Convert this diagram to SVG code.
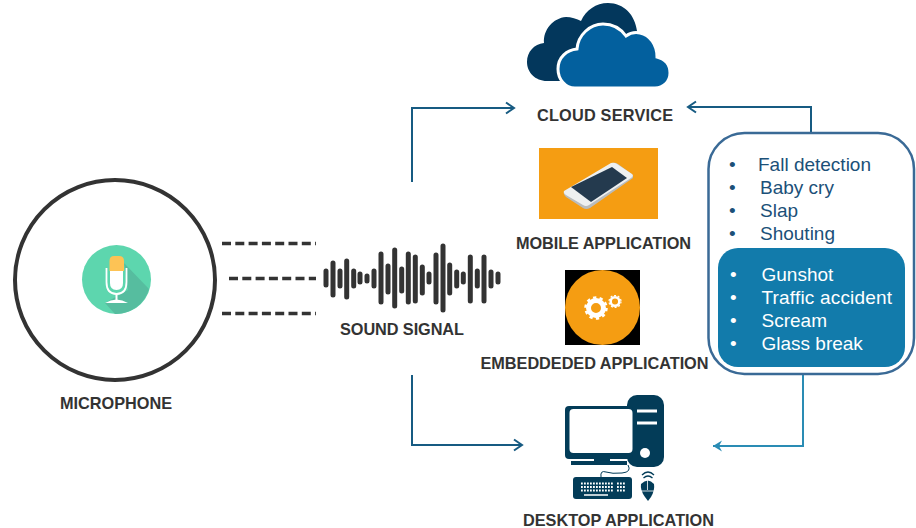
<svg xmlns="http://www.w3.org/2000/svg" width="916" height="528" viewBox="0 0 916 528">
<style>
text{font-family:"Liberation Sans",Arial,sans-serif}
.lbl{font-size:16.300px;font-weight:bold;fill:#333;text-anchor:middle}
.dark{font-size:19px;fill:#1b5078}
.light{font-size:19px;fill:#fff}
.dash{fill:none;stroke:#333;stroke-width:3.400;stroke-dasharray:9 4.300}
.bar{stroke:#333;stroke-width:5;stroke-linecap:round;fill:none}
.conn{fill:none;stroke:#175b82;stroke-width:2}
.conn2{fill:none;stroke:#2a8cb4;stroke-width:2}
.ic{fill:#033c58}
</style>
<defs>
<marker id="open" markerUnits="userSpaceOnUse" markerWidth="14" markerHeight="14" refX="11" refY="7" orient="auto"><path d="M3 1.500L11 7L3 12.500" fill="none" stroke="#175b82" stroke-width="2"/></marker>
<marker id="solid" markerUnits="userSpaceOnUse" markerWidth="14" markerHeight="14" refX="11" refY="7" orient="auto"><path d="M2 1.500L11 7L2 12.500L5 7Z" fill="#2a8cb4"/></marker>
</defs>
<g id="connectors">
<path class="conn" marker-end="url(#open)" d="M412 182V108H514"/>
<path class="conn" marker-end="url(#open)" d="M811 133V107H688"/>
<path class="conn" marker-end="url(#open)" d="M412 375V445H522"/>
<path class="conn2" marker-end="url(#solid)" d="M803 375V446H713"/>
<path class="dash" d="M222 243.500H316"/>
<path class="dash" d="M229 278.500H316"/>
<path class="dash" d="M222 313.500H316"/>
</g>
<g id="microphone">
<circle cx="115" cy="280" r="100" fill="#fff" stroke="#333" stroke-width="4"/>
<circle cx="116.500" cy="279.500" r="34.500" fill="#5dd6ae"/>
<path d="M124 263L149 289A34.500 34.500 0 0 1 115 314L105 303L128 290Z" fill="#56bd9f"/>
<path d="M106.500 268V282Q106.500 294 116.500 294Q126.500 294 126.500 282V268" fill="none" stroke="#fff" stroke-width="1.800"/>
<path d="M110 271H123V283Q123 290 116.500 290Q110 290 110 283Z" fill="#fff"/>
<path d="M109.500 271V261Q109.500 256 114 256H119Q124 256 124 261V271Z" fill="#fdc355"/>
<path d="M116.500 294V300" stroke="#fff" stroke-width="2"/>
<path d="M105 303Q116.500 296 128 303Z" fill="#fff"/>
<text class="lbl" x="116" y="409" textLength="112">MICROPHONE</text>
</g>
<g id="sound-signal">
<path class="bar" d="M326 271v14M333 263v32M340 271v15M346.700 261v36M353.700 271v15M360 274v8M367 276v5M374 271v15M381 254v48M388 266v26M394.700 250v56M401.700 269v22M408.300 254v48M415.300 257v44M422.300 267v26M429 274v8M436 255v47M443 246v64M449.700 265v28M456.700 272v14M463.300 274v8M470.300 257v44M477.300 271v15M484 257v44M491 272v14M498 274v8"/>
<text class="lbl" x="402" y="335" textLength="124">SOUND SIGNAL</text>
</g>
<g id="cloud-service">
<path fill="#03375c" d="M547 81C535 81 527 72 527 62C527 52 534 44 544 43C543 30 553 18 566 17C571 17 577 19 581 21C586 10 596 3 608 3C624 3 635 15 637 31L640 60L600 81Z"/>
<path fill="#03609e" stroke="#fff" stroke-width="3" d="M575 88C565 88 558 79 558 69C558 57 567 50 577 49C578 35 590 24 603 24C613 24 621 29 626 36C630 33 635 32 640 33C650 35 657 45 657 57C665 59 670 65 670 73C670 82 663 88 655 88Z"/>
<text class="lbl" x="605" y="121" textLength="136">CLOUD SERVICE</text>
</g>
<g id="mobile-application">
<rect x="539" y="148" width="119" height="71" fill="#f59d12"/>
<path d="M564 192L612 163Q615 162 618 164L633 175V178L590 208Q586 210 583 208L566 197Q563 194 564 192Z" fill="#b9bcbd"/>
<path d="M564 191L611 163Q614 162 617 164L632 174Q634 176 631 178L589 205Q586 207 583 205L566 195Q563 193 564 191Z" fill="#eef0f0"/>
<path d="M571 187L612 167L627 178L591 202Z" fill="#243a4e"/>
<text class="lbl" x="603.500" y="249" textLength="175">MOBILE APPLICATION</text>
</g>
<g id="embedded-application">
<rect x="565" y="270" width="75" height="75" fill="#000"/>
<circle cx="602.500" cy="307.500" r="37.500" fill="#f59d12"/>
<circle cx="596" cy="308" r="7.500" fill="none" stroke="#fff" stroke-width="5"/>
<circle cx="596" cy="308" r="10.500" fill="none" stroke="#fff" stroke-width="2.500" stroke-dasharray="3.300 3.300"/>
<circle cx="615" cy="301.500" r="4.300" fill="none" stroke="#fff" stroke-width="2.500"/>
<circle cx="615" cy="301.500" r="6" fill="none" stroke="#fff" stroke-width="1.200" stroke-dasharray="2 1.800"/>
<text class="lbl" x="594.500" y="369" textLength="228">EMBEDDEDED APPLICATION</text>
</g>
<g id="desktop-application">
<rect class="ic" x="627" y="395" width="37" height="72" rx="10"/>
<rect class="ic" x="565" y="406" width="68" height="53" rx="4"/>
<rect x="569.500" y="409" width="63" height="44" rx="4" fill="#fff"/>
<path d="M637 411H657M637 423H657" stroke="#fff" stroke-width="3"/>
<circle cx="645" cy="453" r="5" fill="#fff"/>
<path class="ic" d="M571 461H627V465H571Z"/>
<rect x="594" y="458" width="16" height="6" class="ic"/>
<path d="M628 465Q632 472 622 473Q612 474 606 472Q600 470 601 477" fill="none" stroke="#033c58" stroke-width="1"/>
<rect class="ic" x="573" y="477" width="59" height="22" rx="3"/>
<path d="M581 483.500H613M581 487H613M581 490.500H613M617 483.500H626M617 487H626M617 490.500H626" stroke="#fff" stroke-width="1.800" stroke-dasharray="1.800 1.200"/>
<path d="M584 495H608" stroke="#fff" stroke-width="1.500"/>
<path class="ic" d="M641 484Q648 477 654 484Q655 490 651 497L648 501L645 497Q640 490 641 484Z"/>
<path d="M641 491H654M647.500 480V490" stroke="#fff" stroke-width="0.800"/>
<path d="M642 475Q648 469 654 475M643.500 478Q648 474 652.500 478" fill="none" stroke="#033c58" stroke-width="1.300"/>
<text class="lbl" x="618.500" y="526" textLength="191">DESKTOP APPLICATION</text>
</g>
<g id="sound-list">
<rect x="708.500" y="133" width="205.500" height="241" rx="36" fill="#fff" stroke="#3a6a96" stroke-width="2.500"/>
<rect x="718" y="248" width="187" height="119" rx="20" fill="#127bab"/>
<text class="dark" x="729" y="170.500">•</text>
<text class="dark" x="729" y="193.500">•</text>
<text class="dark" x="729" y="216.500">•</text>
<text class="dark" x="729" y="239.500">•</text>
<text class="dark" x="758" y="171">Fall detection</text>
<text class="dark" x="760" y="194">Baby cry</text>
<text class="dark" x="760" y="217">Slap</text>
<text class="dark" x="760" y="240">Shouting</text>
<text class="light" x="730" y="280.500">•</text>
<text class="light" x="730" y="303.500">•</text>
<text class="light" x="730" y="326.500">•</text>
<text class="light" x="730" y="349.500">•</text>
<text class="light" x="761.500" y="281">Gunshot</text>
<text class="light" x="761.500" y="304" textLength="130.500">Traffic accident</text>
<text class="light" x="761.500" y="327">Scream</text>
<text class="light" x="761.500" y="350">Glass break</text>
</g>
</svg>
